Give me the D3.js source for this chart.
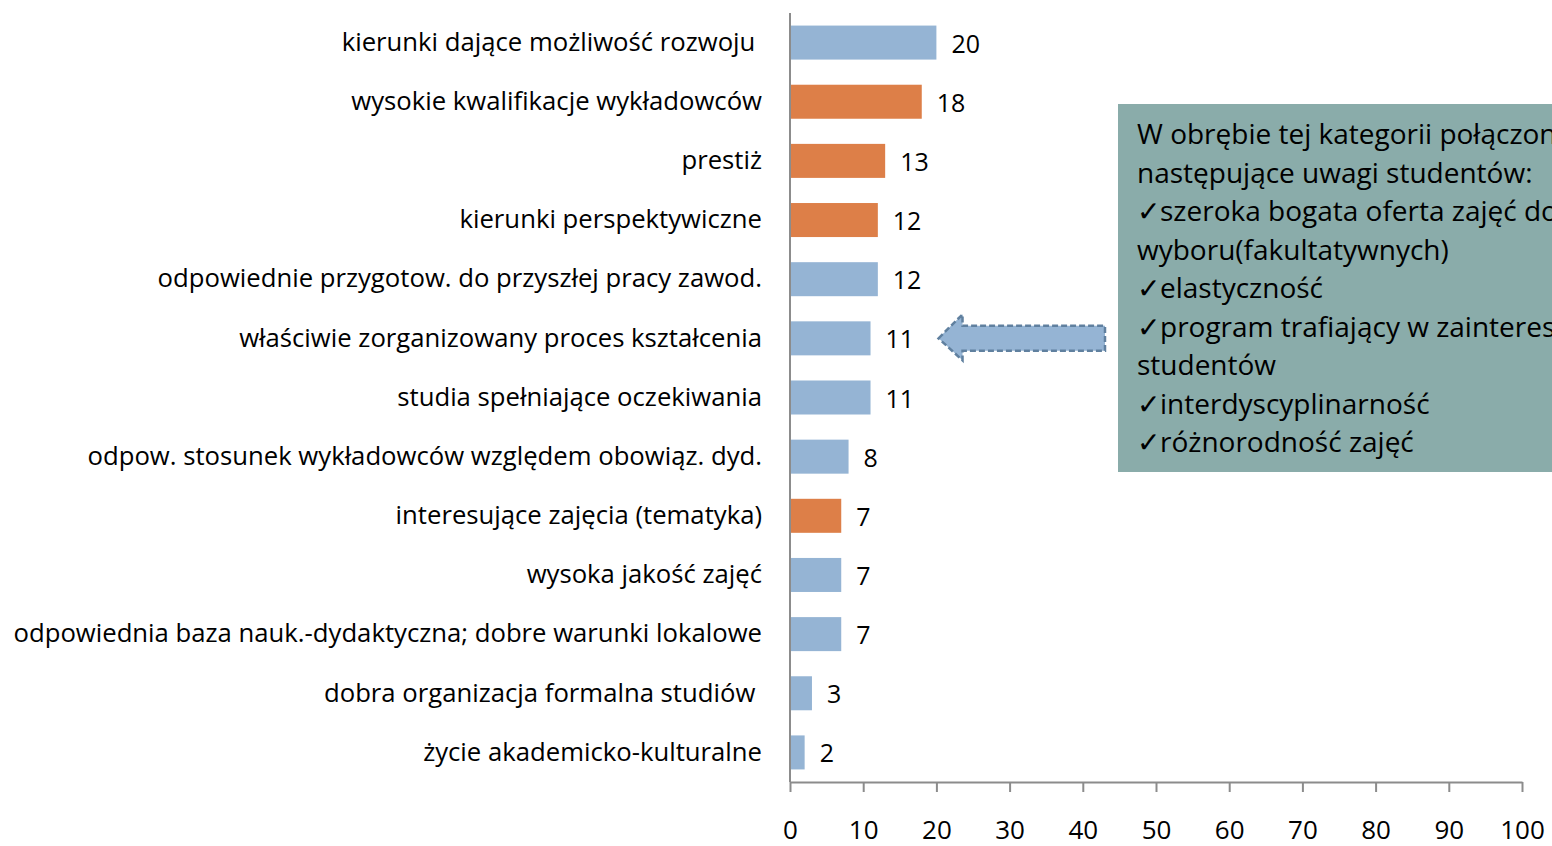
<!DOCTYPE html>
<html>
<head>
<meta charset="utf-8">
<script src="https://cdn.jsdelivr.net/npm/d3@7/dist/d3.min.js"></script>
<style>
  html, body { margin: 0; padding: 0; background: #fff; overflow: hidden; }
  svg { display: block; font-family: "Open Sans", Lato, sans-serif; }
</style>
</head>
<body>
<svg id="chart" width="1552" height="846"></svg>
<script>
// Categories (top to bottom) and number of answers
const categories = [
  "kierunki dające możliwość rozwoju ",
  "wysokie kwalifikacje wykładowców",
  "prestiż",
  "kierunki perspektywiczne",
  "odpowiednie przygotow. do przyszłej pracy zawod.",
  "właściwie zorganizowany proces kształcenia",
  "studia spełniające oczekiwania",
  "odpow. stosunek wykładowców względem obowiąz. dyd.",
  "interesujące zajęcia (tematyka)",
  "wysoka jakość zajęć",
  "odpowiednia baza nauk.-dydaktyczna; dobre warunki lokalowe",
  "dobra organizacja formalna studiów ",
  "życie akademicko-kulturalne"
];
const values = [20, 18, 13, 12, 12, 11, 11, 8, 7, 7, 7, 3, 2];
// highlighted rows are drawn in orange
const highlighted = [false, true, true, true, false, false, false, false, true, false, false, false, false];
const xTicks = [0, 10, 20, 30, 40, 50, 60, 70, 80, 90, 100];
const pointedCategory = "właściwie zorganizowany proces kształcenia";
const noteLines = [
  "W obrębie tej kategorii połączono",
  "następujące uwagi studentów:",
  "✓szeroka bogata oferta zajęć do",
  "wyboru(fakultatywnych)",
  "✓elastyczność",
  "✓program trafiający w zainteresowania",
  "studentów",
  "✓interdyscyplinarność",
  "✓różnorodność zajęć"
];

const svg = d3.select("#chart");
const plot = { left: 790, right: 1522, top: 13, bottom: 782 };
const font = "'Open Sans', Lato, sans-serif";

const x = d3.scaleLinear().domain([0, 100]).range([plot.left, plot.right]);
const y = d3.scaleBand().domain(categories).range([plot.top, plot.bottom])
  .paddingInner(0.425).paddingOuter(0.2125);

const axisColor = "#8c8c8c";

// bars
svg.append("g").selectAll("rect")
  .data(categories)
  .join("rect")
  .attr("x", x(0) + 1)
  .attr("y", d => y(d))
  .attr("width", (d, i) => x(values[i]) - x(0) - 1)
  .attr("height", y.bandwidth())
  .attr("fill", (d, i) => highlighted[i] ? "#dd7f48" : "#95b4d4");

// value labels
svg.append("g").selectAll("text")
  .data(categories)
  .join("text")
  .attr("x", (d, i) => x(values[i]) + 15)
  .attr("y", d => y(d) + y.bandwidth() / 2 + 1)
  .attr("dy", "0.36em")
  .attr("font-size", 25)
  .attr("fill", "#000")
  .text((d, i) => values[i]);

// category axis
const yAxis = svg.append("g")
  .attr("transform", `translate(${plot.left},0)`)
  .call(d3.axisLeft(y).tickSize(0).tickPadding(28));
yAxis.select(".domain").attr("stroke", axisColor).attr("stroke-width", 2)
  .attr("d", `M0,${plot.top}V${plot.bottom}`);
yAxis.selectAll("text")
  .attr("font-size", 25.7)
  .attr("font-family", font)
  .attr("fill", "#000")
  .style("white-space", "pre");

// value axis
const xAxis = svg.append("g")
  .attr("transform", `translate(0,${plot.bottom})`)
  .call(d3.axisBottom(x).tickValues(xTicks).tickSize(10).tickSizeOuter(0).tickPadding(29));
xAxis.select(".domain").attr("stroke", axisColor).attr("stroke-width", 2);
xAxis.selectAll(".tick line").attr("stroke", axisColor).attr("stroke-width", 2);
xAxis.selectAll("text")
  .attr("font-size", 26)
  .attr("font-family", font)
  .attr("fill", "#000");

// note box
const box = { x: 1118, y: 104, w: 460, h: 368 };
svg.append("rect")
  .attr("x", box.x).attr("y", box.y)
  .attr("width", box.w).attr("height", box.h)
  .attr("fill", "#8aacaa");
svg.append("g").selectAll("text")
  .data(noteLines)
  .join("text")
  .attr("x", box.x + 19)
  .attr("y", (d, i) => box.y + 30 + i * 38.5)
  .attr("dy", "0.36em")
  .attr("font-size", 28)
  .attr("fill", "#000")
  .text(d => d);

// arrow pointing from the note to its category
const ay = y(pointedCategory) + y.bandwidth() / 2;
const tipX = x(11) + 68;
const tailX = box.x - 13;
const arrow = d3.path();
arrow.moveTo(tipX, ay);
arrow.lineTo(tipX + 24, ay - 24);
arrow.lineTo(tipX + 24, ay - 12.5);
arrow.lineTo(tailX, ay - 12.5);
arrow.lineTo(tailX, ay + 12.5);
arrow.lineTo(tipX + 24, ay + 12.5);
arrow.lineTo(tipX + 24, ay + 22);
arrow.closePath();
svg.append("path")
  .attr("d", arrow.toString())
  .attr("fill", "#95b4d4")
  .attr("stroke", "#60809f")
  .attr("stroke-width", 2.5)
  .attr("stroke-dasharray", "6,3");
</script>
</body>
</html>
